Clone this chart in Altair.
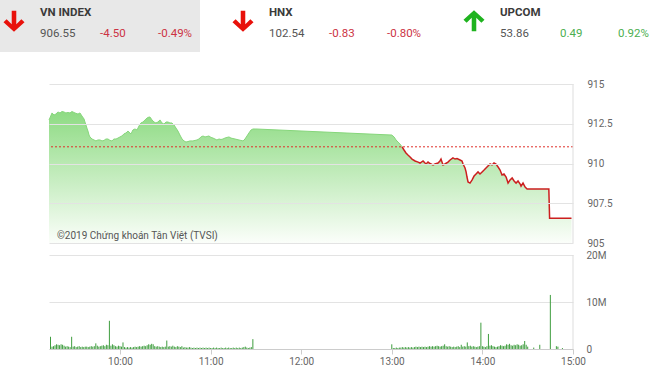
import altair as alt
import pandas as pd

DAY = "2019-06-03 "

# ---------------- header data ----------------
idx_names = ["VN INDEX", "HNX", "UPCOM"]
idx_last = ["906.55", "102.54", "53.86"]
idx_change = ["-4.50", "-0.83", "0.49"]
idx_pct = ["-0.49%", "-0.80%", "0.92%"]
idx_up = [False, False, True]

# ---------------- price data (VN-Index intraday) ----------------
ref_value = 911.05
price_times = [
    "09:13:00", "09:13:36", "09:15:00", "09:16:18", "09:17:36", "09:18:54", "09:20:18", "09:21:36",
    "09:22:54", "09:24:12", "09:25:36", "09:26:54", "09:28:12", "09:30:12", "09:32:12", "09:33:30",
    "09:34:48", "09:36:12", "09:36:48", "09:37:30", "09:38:06", "09:38:48", "09:39:30", "09:40:06",
    "09:41:30", "09:42:48", "09:44:06", "09:45:24", "09:46:48", "09:48:06", "09:49:24", "09:50:42",
    "09:52:06", "09:53:24", "09:54:42", "09:56:00", "09:57:24", "09:58:42", "10:00:00", "10:01:18",
    "10:02:36", "10:04:00", "10:05:18", "10:06:36", "10:07:18", "10:08:36", "10:09:54", "10:11:18",
    "10:12:36", "10:13:54", "10:15:12", "10:16:36", "10:17:54", "10:19:12", "10:19:54", "10:21:12",
    "10:22:30", "10:23:48", "10:25:12", "10:26:30", "10:27:48", "10:29:06", "10:30:30", "10:31:48",
    "10:33:06", "10:34:24", "10:35:48", "10:37:06", "10:38:24", "10:39:42", "10:41:06", "10:42:24",
    "10:43:42", "10:45:00", "10:46:24", "10:48:18", "10:49:42", "10:51:00", "10:52:18", "10:53:36",
    "10:55:00", "10:56:18", "10:57:36", "10:58:54", "11:00:18", "11:01:36", "11:02:54", "11:04:12",
    "11:05:36", "11:06:54", "11:08:12", "11:09:30", "11:10:54", "11:12:12", "11:13:30", "11:14:48",
    "11:16:12", "11:17:30", "11:18:48", "11:20:06", "11:21:30", "11:22:48", "11:24:06", "11:25:24",
    "11:26:48", "11:28:06", "11:30:00",
    "13:00:00", "13:01:30", "13:02:48", "13:04:06", "13:05:24", "13:06:48", "13:08:06", "13:09:24",
    "13:10:42", "13:12:06", "13:13:24", "13:15:24", "13:17:24", "13:18:42", "13:20:42", "13:22:00",
    "13:22:42", "13:24:00", "13:25:18", "13:27:18", "13:28:36", "13:30:36", "13:31:54", "13:32:36",
    "13:33:54", "13:35:12", "13:37:12", "13:38:36", "13:40:30", "13:41:54", "13:43:12", "13:45:12",
    "13:46:30", "13:47:12", "13:48:30", "13:49:12", "13:49:48", "13:50:30", "13:51:48", "13:53:06",
    "13:54:30", "13:55:48", "13:57:06", "13:58:24", "13:59:48", "14:01:06", "14:02:24", "14:03:42",
    "14:05:06", "14:06:24", "14:07:42", "14:09:00", "14:10:24", "14:11:42", "14:13:00", "14:14:18",
    "14:15:42", "14:17:00", "14:18:18", "14:19:42", "14:21:00", "14:22:18", "14:23:36", "14:25:00",
    "14:25:36", "14:26:54", "14:28:18", "14:29:36", "14:44:00", "14:44:30", "14:59:00",
]
price_values = [
    912.74, 912.86, 913.18, 913.05, 913.11, 913.24, 913.18, 913.27,
    913.24, 913.18, 913.21, 913.18, 913.27, 913.18, 913.11, 913.18,
    912.99, 912.80, 912.61, 912.42, 912.23, 912.04, 911.79, 911.67,
    911.54, 911.48, 911.42, 911.48, 911.48, 911.42, 911.45, 911.54,
    911.54, 911.45, 911.42, 911.54, 911.54, 911.60, 911.67, 911.73,
    911.86, 911.92, 912.04, 911.92, 911.86, 912.11, 912.17, 912.11,
    912.36, 912.55, 912.61, 912.74, 912.86, 912.92, 912.92, 912.74,
    912.61, 912.55, 912.61, 912.74, 912.55, 912.48, 912.61, 912.61,
    912.55, 912.55, 912.42, 912.23, 912.04, 911.79, 911.54, 911.42,
    911.35, 911.38, 911.42, 911.42, 911.45, 911.48, 911.54, 911.67,
    911.73, 911.67, 911.70, 911.73, 911.64, 911.60, 911.54, 911.48,
    911.54, 911.51, 911.54, 911.60, 911.64, 911.67, 911.60, 911.57,
    911.54, 911.51, 911.48, 911.45, 911.42, 911.54, 911.73, 911.92,
    912.11, 912.17, 912.17,
    911.79, 911.67, 911.48, 911.35, 911.23, 911.05, 910.85, 910.66,
    910.53, 910.41, 910.28, 910.16, 910.09, 910.03, 910.16, 910.03,
    909.97, 910.09, 910.00, 909.91, 909.97, 910.03, 910.16, 910.28,
    909.91, 909.97, 910.09, 910.22, 910.35, 910.28, 910.31, 910.22,
    910.16, 909.97, 909.72, 909.47, 909.15, 908.84, 908.77, 908.96,
    909.21, 909.34, 909.47, 909.34, 909.47, 909.59, 909.72, 909.84,
    909.97, 909.91, 910.03, 909.97, 909.78, 909.59, 909.28, 909.34,
    909.15, 908.77, 908.96, 909.09, 908.90, 908.77, 908.90, 908.71,
    908.58, 908.77, 908.52, 908.40, 908.40, 906.55, 906.55,
]
price_ticks = [905, 907.5, 910, 912.5, 915]

# ---------------- volume data (million shares per minute) ----------------
vol_morning_start = "09:14"
vol_morning = [
    2.6, 0.5, 0.6, 0.8, 1.0, 0.9, 0.8, 1.0, 0.9, 0.7, 0.5, 0.6, 0.5, 0.4, 2.6, 0.5,
    0.6, 0.4, 0.5, 0.6, 0.4, 0.5, 0.4, 0.5, 0.5, 0.4, 0.5, 0.6, 0.5, 0.6, 1.2, 0.7,
    0.5, 0.6, 0.7, 0.8, 0.6, 0.9, 0.8, 6.0, 0.7, 1.0, 0.8, 0.6, 0.5, 0.7, 0.6, 0.5,
    1.4, 0.4, 0.3, 0.4, 0.3, 0.4, 0.3, 0.4, 0.5, 0.4, 0.5, 0.6, 0.5, 0.6, 0.7, 0.6,
    0.8, 1.0, 0.9, 1.1, 1.0, 0.6, 0.5, 0.6, 0.5, 0.4, 0.5, 0.4, 0.5, 1.8, 0.5, 0.6,
    0.5, 0.7, 0.5, 0.4, 0.6, 0.5, 0.4, 0.6, 0.3, 0.4, 0.3, 0.3, 0.4, 0.3, 0.2, 0.3,
    0.2, 0.3, 0.2, 0.3, 0.2, 0.3, 0.2, 0.3, 0.2, 0.3, 0.2, 0.2, 0.3, 0.2, 0.3, 0.2,
    0.2, 0.3, 0.2, 0.2, 0.3, 0.2, 0.3, 0.2, 0.2, 0.3, 0.2, 0.3, 0.2, 0.3, 0.2, 0.3,
    0.4, 0.5, 0.3, 0.2, 0.3, 0.4, 2.1,
]
vol_afternoon_start = "13:00"
vol_afternoon = [
    1.0, 0.2, 0.2, 0.3, 0.2, 0.3, 0.3, 0.4, 0.3, 0.4, 0.3, 0.4, 0.3, 0.4, 0.3, 0.4,
    0.5, 0.4, 0.5, 0.4, 0.5, 0.4, 0.5, 0.4, 0.5, 0.6, 0.5, 0.6, 0.5, 0.6, 0.7, 0.6,
    0.5, 0.6, 0.7, 1.0, 0.6, 0.5, 0.6, 0.5, 0.4, 0.5, 0.4, 0.5, 0.6, 0.4, 0.9, 0.5,
    0.6, 0.5, 1.4, 0.6, 0.7, 0.5, 0.6, 0.5, 0.4, 0.5, 0.6, 5.6, 0.6, 0.5, 0.4, 0.6,
    3.2, 0.7, 0.8, 0.6, 0.5, 0.4, 0.5, 0.6, 0.8, 0.7, 0.6, 0.7, 1.0, 0.9, 1.1, 0.8,
    0.7, 0.9, 0.8, 1.0, 0.9, 0.7, 0.8, 1.0, 1.7, 0.9, 0.5,
]
vol_extra_times = ["14:34", "14:38", "14:45", "14:49", "14:50", "14:53"]
vol_extra = [0.3, 0.9, 11.5, 0.6, 0.5, 0.2]
vol_ticks = [0, 10, 20]

watermark = "©2019 Chứng khoán Tân Việt (TVSI)"

# ---------------- build tables ----------------
price_df = pd.DataFrame({"t": [DAY + s for s in price_times], "v": price_values})
cross = next(i for i, v in enumerate(price_values) if v <= ref_value)
up_df = price_df.iloc[: cross + 1]
down_df = price_df.iloc[cross:]

vt = list(pd.date_range(DAY + vol_morning_start, periods=len(vol_morning), freq="1min"))
vt += list(pd.date_range(DAY + vol_afternoon_start, periods=len(vol_afternoon), freq="1min"))
vt += [pd.Timestamp(DAY + s) for s in vol_extra_times]
vol_df = pd.DataFrame({
    "t": [d.strftime("%Y-%m-%d %H:%M:%S") for d in vt],
    "vol": vol_morning + vol_afternoon + vol_extra,
})


def dt(h, m):
    return alt.DateTime(year=2019, month=6, date=3, hours=h, minutes=m)


xscale = alt.Scale(domain=[dt(9, 13), dt(15, 0)])
FONT = "Roboto"
GRID = "#e3e3e3"
LABEL = "#666666"
RED_TXT = "#cc3344"
GREEN_TXT = "#4caf50"

one = pd.DataFrame({"a": [0]})

# ---------------- header (drawn above the price panel) ----------------
header_layers = []
# invisible backdrop that fixes the overall 660x379 extent
header_layers.append(
    alt.Chart(one).mark_rect(color="#ffffff", opacity=0).encode(
        x=alt.value(-49), x2=alt.value(611), y=alt.value(-84), y2=alt.value(295)
    )
)
header_layers.append(
    alt.Chart(one).mark_rect(color="#e8e8e8").encode(
        x=alt.value(-49), x2=alt.value(151), y=alt.value(-84), y2=alt.value(-32)
    )
)
DOWN = "M-0.21,-0.95L0.21,-0.95L0.21,0.3L0.68,-0.17L0.97,0.12L0,1.0L-0.97,0.12L-0.68,-0.17L-0.21,0.3Z"
UP = "M-0.21,0.95L0.21,0.95L0.21,-0.3L0.68,0.17L0.97,-0.12L0,-1.0L-0.97,-0.12L-0.68,0.17L-0.21,-0.3Z"
block_x = [-49, 180, 411]
for i in range(3):
    bx = block_x[i]
    up = idx_up[i]
    col = GREEN_TXT if up else RED_TXT
    header_layers.append(
        alt.Chart(one).mark_point(
            shape=UP if up else DOWN, filled=True, size=470, opacity=1,
            color="#1fb31f" if up else "#e8110b", strokeWidth=0,
        ).encode(x=alt.value(bx + 14), y=alt.value(-63))
    )
    items = [
        (idx_names[i], 40, -71, "#3a3a3a", "bold", 11.5),
        (idx_last[i], 40, -50, "#555555", "normal", 11.5),
        (idx_change[i], 100, -50, col, "normal", 11.5),
        (idx_pct[i], 158, -50, col, "normal", 11.5),
    ]
    for txt, dx, yy, c, fw, fs in items:
        header_layers.append(
            alt.Chart(pd.DataFrame({"s": [txt]})).mark_text(
                align="left", baseline="middle", font=FONT, fontSize=fs,
                fontWeight=fw, color=c,
            ).encode(text="s:N", x=alt.value(bx + dx), y=alt.value(yy))
        )

# ---------------- price panel ----------------
yscale = alt.Scale(domain=[905, 915], zero=False, nice=False)
yaxis = alt.Axis(
    orient="right", values=price_ticks, format=".1~f", tickCount=5,
    grid=True, gridColor=GRID, domain=False, ticks=False, labelPadding=14,
    labelColor=LABEL, labelFontSize=10, labelFont=FONT, title=None, zindex=1,
    labelOverlap=False,
)
area = alt.Chart(price_df).mark_area(
    color=alt.Gradient(
        gradient="linear",
        stops=[alt.GradientStop(color="#8edb83", offset=0),
               alt.GradientStop(color="#fbfefa", offset=1)],
        x1=1, x2=1, y1=0, y2=1,
    ),
    interpolate="linear",
).encode(
    x=alt.X("t:T", scale=xscale, axis=None),
    y=alt.Y("v:Q", scale=yscale, axis=yaxis),
    y2=alt.Y2(datum=905),
)
line_up = alt.Chart(up_df).mark_line(color="#86d67b", strokeWidth=1).encode(
    x=alt.X("t:T", scale=xscale, axis=None), y=alt.Y("v:Q", scale=yscale, axis=yaxis)
)
line_down = alt.Chart(down_df).mark_line(color="#cc1f1f", strokeWidth=1.5).encode(
    x=alt.X("t:T", scale=xscale, axis=None), y=alt.Y("v:Q", scale=yscale, axis=yaxis)
)
ref_rule = alt.Chart(pd.DataFrame({"v": [ref_value]})).mark_rule(
    color="#e0302a", strokeWidth=1, strokeDash=[2, 2]
).encode(y=alt.Y("v:Q", scale=yscale, axis=yaxis))
border_p = alt.Chart(one).mark_rule(color="#dddddd").encode(
    x=alt.X(datum=dt(15, 0), scale=xscale, axis=None)
)
wm = alt.Chart(pd.DataFrame({"s": [watermark]})).mark_text(
    align="left", baseline="middle", font=FONT, fontSize=10, color="#555555"
).encode(text="s:N", x=alt.value(8), y=alt.value(152))

price = alt.layer(
    *header_layers, area, line_up, line_down, ref_rule, border_p, wm
).properties(width=524, height=159)

# ---------------- volume panel ----------------
xaxis_v = alt.Axis(
    values=[dt(h, 0) for h in range(10, 16)], format="%H:%M", title=None,
    grid=False, tickSize=5, tickColor="#cccccc", domainColor="#cccccc",
    labelColor=LABEL, labelFontSize=10, labelFont=FONT, labelPadding=2,
    labelFlush=False, labelOverlap=False,
)
bars = alt.Chart(vol_df).mark_rule(color="#3f9d3f", strokeWidth=1).encode(
    x=alt.X("t:T", scale=xscale, axis=xaxis_v),
    y=alt.Y(
        "vol:Q", scale=alt.Scale(domain=[0, 20], nice=False),
        axis=alt.Axis(
            orient="right", values=vol_ticks, grid=True, gridColor=GRID,
            domain=False, ticks=False, labelPadding=13, labelColor=LABEL,
            labelFontSize=10, labelFont=FONT, title=None, labelOverlap=False,
            labelExpr="datum.value == 0 ? '0' : datum.value + 'M'",
        ),
    ),
    y2=alt.Y2(datum=0),
)
border_v = alt.Chart(one).mark_rule(color="#dddddd").encode(
    x=alt.X(datum=dt(15, 0), scale=xscale, axis=xaxis_v)
)
volume = alt.layer(bars, border_v).properties(width=524, height=94)

chart = alt.vconcat(price, volume, spacing=12, bounds="flush").properties(
    padding=0,
).configure_view(stroke=None)

chart.save("out.html", embed_options={"renderer": "svg", "actions": False})
